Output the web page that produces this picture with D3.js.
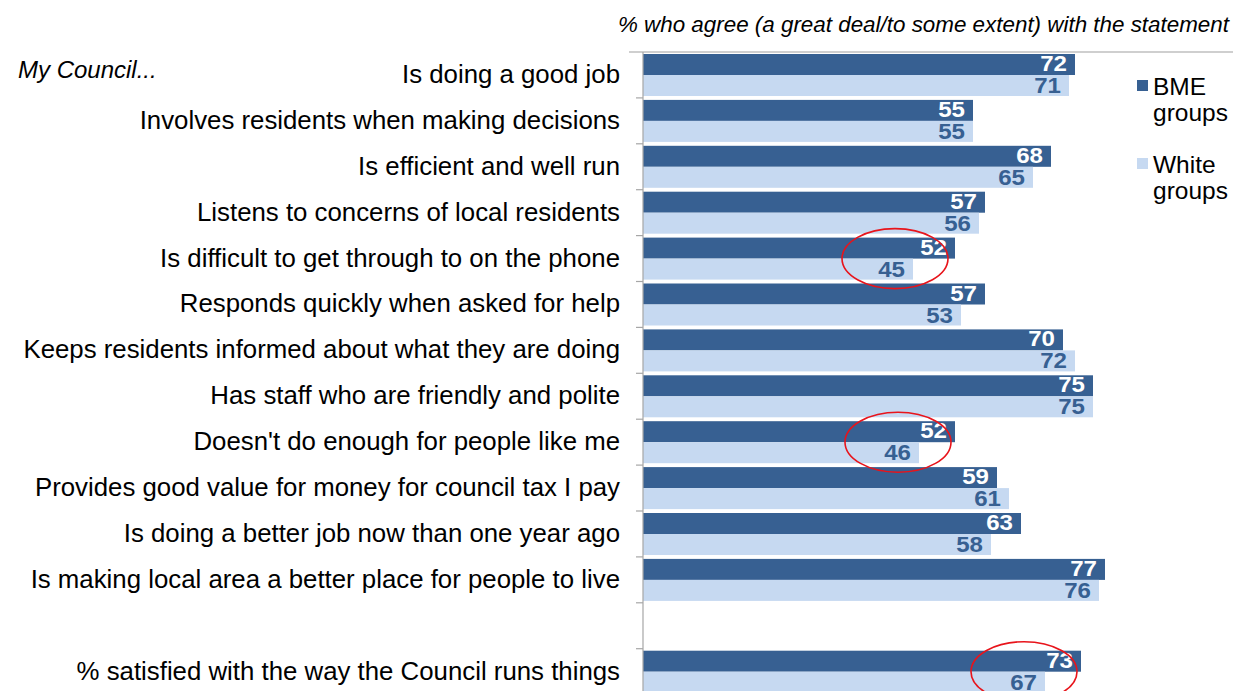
<!DOCTYPE html>
<html>
<head>
<meta charset="utf-8">
<script src="https://cdn.jsdelivr.net/npm/d3@7/dist/d3.min.js"></script>
<style>
  html, body { margin: 0; padding: 0; background: #fff; }
  svg { display: block; }
</style>
</head>
<body>
<svg id="chart" width="1233" height="691"></svg>
<script>
// Statements (an empty entry leaves a spacer row before the overall satisfaction row)
const categories = [
  "Is doing a good job",
  "Involves residents when making decisions",
  "Is efficient and well run",
  "Listens to concerns of local residents",
  "Is difficult to get through to on the phone",
  "Responds quickly when asked for help",
  "Keeps residents informed about what they are doing",
  "Has staff who are friendly and polite",
  "Doesn't do enough for people like me",
  "Provides good value for money for council tax I pay",
  "Is doing a better job now than one year ago",
  "Is making local area a better place for people to live",
  "",
  "% satisfied with the way the Council runs things"
];
const bmeValues   = [72, 55, 68, 57, 52, 57, 70, 75, 52, 59, 63, 77, null, 73];
const whiteValues = [71, 55, 65, 56, 45, 53, 72, 75, 46, 61, 58, 76, null, 67];
const seriesNames = ["BME groups", "White groups"];
// Rows whose gap between groups is circled
const highlighted = [4, 8, 13];

const darkBlue = "#376092";
const lightBlue = "#c6d9f1";
const font = "'Liberation Sans', Arial, sans-serif";

const svg = d3.select("#chart");

const x = d3.scaleLinear().domain([0, 100]).range([643, 1243]);
const y = d3.scaleBand().domain(d3.range(categories.length)).range([52, 52 + 45.9 * categories.length]);
const barH = 21;

// Top frame line
svg.append("line")
  .attr("x1", 629).attr("x2", 1233).attr("y1", 52).attr("y2", 52)
  .attr("stroke", "#bfbfbf").attr("stroke-width", 1.5);

// Bars
const rows = categories.map((c, i) => ({ i, c, bme: bmeValues[i], white: whiteValues[i] }))
  .filter(d => d.bme !== null);

svg.selectAll("rect.bme").data(rows).join("rect")
  .attr("class", "bme")
  .attr("x", x(0)).attr("y", d => y(d.i) + 2)
  .attr("width", d => x(d.bme) - x(0)).attr("height", barH)
  .attr("fill", darkBlue);

svg.selectAll("rect.white").data(rows).join("rect")
  .attr("class", "white")
  .attr("x", x(0)).attr("y", d => y(d.i) + 2 + barH)
  .attr("width", d => x(d.white) - x(0)).attr("height", barH)
  .attr("fill", lightBlue);

// Category axis with tick marks between rows
svg.append("line")
  .attr("x1", x(0)).attr("x2", x(0)).attr("y1", 52).attr("y2", 691)
  .attr("stroke", "#a6a6a6").attr("stroke-width", 1.2);
svg.selectAll("line.tick").data(d3.range(1, categories.length)).join("line")
  .attr("class", "tick")
  .attr("x1", x(0) - 7).attr("x2", x(0))
  .attr("y1", k => 52 + k * y.step()).attr("y2", k => 52 + k * y.step())
  .attr("stroke", "#a6a6a6").attr("stroke-width", 1.2);

// Category labels
svg.selectAll("text.cat").data(categories.map((c, i) => ({ c, i })).filter(d => d.c)).join("text")
  .attr("class", "cat")
  .attr("x", 620).attr("y", d => y(d.i) + y.bandwidth() / 2 + 8)
  .attr("text-anchor", "end")
  .attr("font-family", font).attr("font-size", 25.8).attr("fill", "#000")
  .text(d => d.c);

// Value labels at the bar ends (slightly widened digits)
function valueLabel(sel, value, offset, color) {
  sel.attr("transform", d => `translate(${x(d[value]) - 8},${y(d.i) + offset}) scale(1.12,1)`)
    .attr("text-anchor", "end")
    .attr("font-family", font).attr("font-weight", "bold").attr("font-size", 21.5)
    .attr("fill", color)
    .text(d => d[value]);
}
svg.selectAll("text.vb").data(rows).join("text").attr("class", "vb")
  .call(valueLabel, "bme", 19, "#fff");
svg.selectAll("text.vw").data(rows).join("text").attr("class", "vw")
  .call(valueLabel, "white", 41, darkBlue);

// Circles around the BME / White gaps
svg.selectAll("ellipse.hl").data(highlighted).join("ellipse")
  .attr("class", "hl")
  .attr("cx", i => (x(bmeValues[i]) + x(whiteValues[i])) / 2 - 39)
  .attr("cy", i => y(i) + 2 + barH)
  .attr("rx", 53).attr("ry", 30)
  .attr("fill", "none").attr("stroke", "#e8141b").attr("stroke-width", 1.6);

// Header and lead-in
svg.append("text")
  .attr("x", 1229).attr("y", 32)
  .attr("text-anchor", "end")
  .attr("font-family", font).attr("font-style", "italic").attr("font-size", 22.4)
  .text("% who agree (a great deal/to some extent) with the statement");

svg.append("text")
  .attr("x", 18).attr("y", 78)
  .attr("font-family", font).attr("font-style", "italic").attr("font-size", 24)
  .text("My Council...");

// Legend
const legend = svg.append("g");
const legendItems = seriesNames.map((s, k) => ({ s, k, color: k === 0 ? darkBlue : lightBlue }));
legend.selectAll("rect").data(legendItems).join("rect")
  .attr("x", 1137).attr("y", d => 80 + d.k * 78)
  .attr("width", 11).attr("height", 11)
  .attr("fill", d => d.color);
legend.selectAll("text").data(legendItems).join("text")
  .attr("x", 1153).attr("y", d => 95 + d.k * 78)
  .attr("font-family", font).attr("font-size", 24.5)
  .each(function (d) {
    const parts = d.s.split(" ");
    d3.select(this).selectAll("tspan").data(parts).join("tspan")
      .attr("x", 1153).attr("dy", (p, j) => j === 0 ? 0 : 26)
      .text(p => p);
  });
</script>
</body>
</html>
